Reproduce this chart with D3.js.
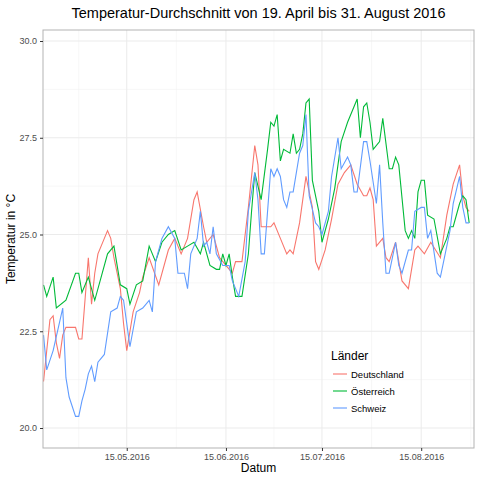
<!DOCTYPE html>
<html>
<head>
<meta charset="utf-8">
<script src="https://cdn.jsdelivr.net/npm/d3@7"></script>
<style>
  body { margin: 0; background: #fff; }
  text { font-family: "Liberation Sans", Arial, sans-serif; }
</style>
</head>
<body>
<div id="chart"></div>
<script>
const width = 480;
const height = 480;
const margin = { top: 30, right: 6, bottom: 32, left: 43 };
const innerWidth = width - margin.left - margin.right;
const innerHeight = height - margin.top - margin.bottom;

// Tage seit 19.04.2016 und Temperaturen
const deTage = [0,2,3,4,5,6,7,10,11,12,14,15,16,17,19,20,21,22,24,25,26,28,30,31,33,36,39,41,43,45,47,48,50,51,53,55,57,59,60,62,64,66,67,68,71,72,74,76,77,78,80,82,84,85,86,88,90,92,94,96,98,100,101,102,103,104,106,107,108,110,112,114,116,117,119,121,124,126,128,130,131,132,133];
const deWerte = [21.2,22.8,22.9,22.2,21.8,22.4,22.6,22.6,22.3,22.3,24.4,23.2,24.0,24.5,24.9,25.1,24.9,24.4,23.6,22.7,22.0,23.0,23.5,23.9,24.4,23.7,24.6,24.9,24.5,24.9,25.9,26.1,25.2,24.8,25.0,24.4,24.2,24.0,24.3,24.3,25.7,27.3,26.8,25.2,25.2,25.3,24.9,24.5,24.6,24.5,25.3,26.5,25.7,24.3,24.1,24.6,25.4,26.3,26.6,26.8,26.3,26.0,26.0,26.2,25.9,24.7,24.9,24.4,24.3,24.8,23.8,23.6,24.6,24.7,24.5,24.8,24.4,25.5,26.3,26.8,26.0,25.7,25.6];

const atTage = [0,1,3,4,7,10,11,12,14,16,18,20,22,24,26,27,29,31,33,35,37,39,41,43,45,47,49,50,52,54,55,56,57,58,59,60,62,64,65,66,68,70,71,72,73,74,75,77,78,79,80,81,82,83,84,86,87,89,91,93,95,98,99,100,101,102,103,105,106,108,109,110,111,113,114,115,116,117,118,119,120,122,124,126,127,128,130,131,132,133];
const atWerte = [23.7,23.4,23.9,23.1,23.3,24.0,24.0,23.5,23.9,23.3,23.9,24.5,24.7,23.7,23.6,23.2,23.7,23.8,24.7,24.3,24.8,25.0,25.1,24.6,24.7,24.8,24.5,24.8,24.2,24.1,24.1,24.5,24.2,24.5,23.9,23.4,23.4,24.5,25.6,26.6,25.9,27.2,27.9,27.8,28.1,26.9,27.2,27.1,27.6,27.1,27.2,27.6,28.4,28.5,26.4,25.6,24.8,25.4,26.2,27.4,27.9,28.5,27.5,28.3,28.4,27.9,27.2,27.4,28.0,26.7,26.7,27.0,26.8,25.1,24.9,25.1,24.9,26.1,26.4,26.4,25.5,25.4,24.5,24.9,25.2,25.2,25.8,26.0,25.9,25.3];

const chTage = [0,1,3,6,7,8,10,11,12,13,14,15,16,17,19,21,23,24,25,27,29,31,33,34,35,37,39,41,42,44,45,46,48,49,50,51,52,53,54,56,58,59,61,63,64,66,67,68,69,71,72,73,74,75,76,77,78,80,81,82,83,85,86,87,89,90,92,93,95,96,97,98,100,101,102,104,105,106,107,108,110,111,112,114,115,116,118,119,120,121,123,124,125,127,128,130,131,132,133];
const chWerte = [22.4,21.5,22.0,23.1,21.3,20.8,20.3,20.3,20.7,21.0,21.4,21.6,21.2,21.7,21.9,23.0,23.1,23.4,23.3,22.1,23.0,23.1,23.3,23.0,24.3,24.9,25.2,24.9,24.0,24.0,23.6,24.5,24.9,25.6,24.7,24.8,24.5,25.2,24.5,24.2,24.2,23.8,23.4,24.3,25.6,26.6,25.9,24.5,24.5,26.7,26.5,26.7,26.5,25.9,25.7,26.1,26.1,27.1,27.3,28.1,26.0,25.3,25.2,25.0,25.6,26.5,27.5,26.7,27.0,26.8,26.1,26.1,27.4,27.4,26.9,25.8,26.8,25.3,24.0,24.0,24.8,24.2,24.0,24.6,24.6,25.6,25.7,25.7,24.9,25.1,24.0,23.9,24.3,25.1,25.8,26.5,25.7,25.3,25.3];

const laender = ["Deutschland", "Österreich", "Schweiz"];
const farben = ["#F8766D", "#00BA38", "#619CFF"];
const yTicks = [20.0, 22.5, 25.0, 27.5, 30.0];
const xTickLabels = ["15.05.2016", "15.06.2016", "15.07.2016", "15.08.2016"];

const start = new Date(2016, 3, 19);
const parseTick = d3.timeParse("%d.%m.%Y");
const toSeries = (tage, werte) => tage.map((t, i) => ({ date: d3.timeDay.offset(start, t), value: werte[i] }));
const series = [toSeries(deTage, deWerte), toSeries(atTage, atWerte), toSeries(chTage, chWerte)];

const svg = d3.select("#chart").append("svg")
    .attr("width", width)
    .attr("height", height);

svg.append("text")
    .attr("x", margin.left + innerWidth / 2)
    .attr("y", 18)
    .attr("text-anchor", "middle")
    .style("font-size", "14.5px")
    .text("Temperatur-Durchschnitt von 19. April bis 31. August 2016");

const g = svg.append("g").attr("transform", `translate(${margin.left},${margin.top})`);

const xScale = d3.scaleTime()
    .domain([new Date(2016, 3, 18, 20), new Date(2016, 7, 31, 12)])
    .range([0, innerWidth]);

const yScale = d3.scaleLinear()
    .domain([20, 30])
    .range([398, 11]);

// grid
const xMajor = xTickLabels.map(parseTick);
const xMinor = [new Date(2016, 3, 30), new Date(2016, 4, 30, 12), new Date(2016, 5, 30), new Date(2016, 6, 30, 12), new Date(2016, 7, 30, 12)];
const yMinor = [21.25, 23.75, 26.25, 28.75];

g.selectAll(".gminor-x").data(xMinor).enter().append("line")
    .attr("x1", d => xScale(d)).attr("x2", d => xScale(d))
    .attr("y1", 0).attr("y2", innerHeight)
    .attr("stroke", "#f2f2f2").attr("stroke-width", 0.6);
g.selectAll(".gminor-y").data(yMinor).enter().append("line")
    .attr("y1", d => yScale(d)).attr("y2", d => yScale(d))
    .attr("x1", 0).attr("x2", innerWidth)
    .attr("stroke", "#f2f2f2").attr("stroke-width", 0.6);
g.selectAll(".gmajor-x").data(xMajor).enter().append("line")
    .attr("x1", d => xScale(d)).attr("x2", d => xScale(d))
    .attr("y1", 0).attr("y2", innerHeight)
    .attr("stroke", "#ebebeb").attr("stroke-width", 1);
g.selectAll(".gmajor-y").data(yTicks).enter().append("line")
    .attr("y1", d => yScale(d)).attr("y2", d => yScale(d))
    .attr("x1", 0).attr("x2", innerWidth)
    .attr("stroke", "#ebebeb").attr("stroke-width", 1);

// lines
const line = d3.line().x(d => xScale(d.date)).y(d => yScale(d.value));
series.forEach((s, i) => {
    g.append("path")
        .datum(s)
        .attr("fill", "none")
        .attr("stroke", farben[i])
        .attr("stroke-width", 1.1)
        .attr("d", line);
});

g.append("rect")
    .attr("width", innerWidth).attr("height", innerHeight)
    .attr("fill", "none").attr("stroke", "#b3b3b3").attr("stroke-width", 1);

// axes
const xAxis = g.append("g")
    .attr("transform", `translate(0,${innerHeight})`)
    .call(d3.axisBottom(xScale).tickValues(xMajor).tickFormat(d3.timeFormat("%d.%m.%Y")).tickSize(3).tickSizeOuter(0));
const yAxis = g.append("g")
    .call(d3.axisLeft(yScale).tickValues(yTicks).tickFormat(d3.format(".1f")).tickSize(3).tickSizeOuter(0));
[xAxis, yAxis].forEach(a => {
    a.select(".domain").remove();
    a.selectAll("line").attr("stroke", "#333");
    a.selectAll("text").attr("fill", "#4d4d4d").style("font-size", "9px");
});

svg.append("text")
    .attr("x", margin.left + innerWidth / 2)
    .attr("y", 472)
    .attr("text-anchor", "middle")
    .style("font-size", "12px")
    .text("Datum");

svg.append("text")
    .attr("transform", "rotate(-90)")
    .attr("x", -(margin.top + innerHeight / 2))
    .attr("y", 15)
    .attr("text-anchor", "middle")
    .style("font-size", "12px")
    .text("Temperatur in °C");

// legend
const legend = svg.append("g").attr("transform", "translate(331,360)");
legend.append("text").attr("x", 0).attr("y", 0).style("font-size", "12px").text("Länder");
laender.forEach((l, i) => {
    const row = legend.append("g").attr("transform", `translate(0,${14 + i * 17})`);
    row.append("line").attr("x1", 2).attr("x2", 16).attr("y1", 0).attr("y2", 0)
        .attr("stroke", farben[i]).attr("stroke-width", 1.1);
    row.append("text").attr("x", 20).attr("y", 3.5).style("font-size", "9.5px").text(l);
});
</script>
</body>
</html>
